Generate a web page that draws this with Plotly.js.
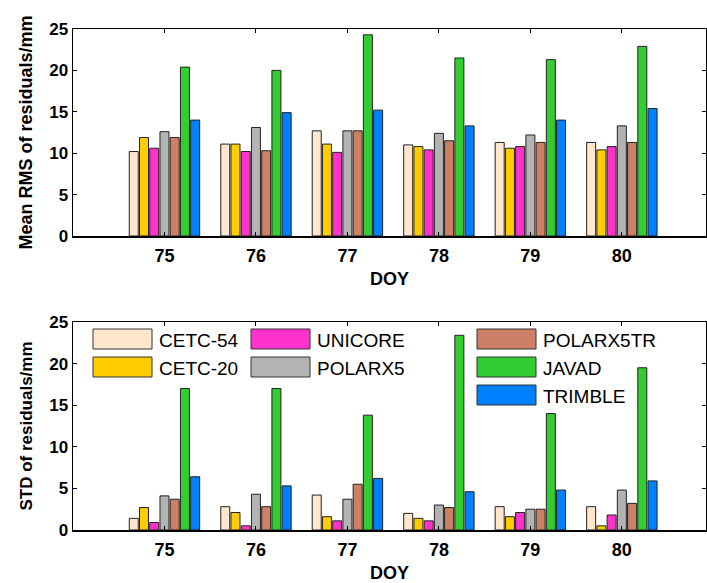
<!DOCTYPE html>
<html>
<head>
<meta charset="utf-8">
<script src="https://cdn.plot.ly/plotly-3.0.1.min.js"></script>
<style>html,body{margin:0;padding:0;background:#fff;}#chart{width:707px;height:583px;}</style>
</head>
<body>
<div id="chart"></div>
<script>
var doy = [75, 76, 77, 78, 79, 80];
var receivers = ["CETC-54", "CETC-20", "UNICORE", "POLARX5", "POLARX5TR", "JAVAD", "TRIMBLE"];
var colors = ["#FFE6CC", "#FFCC00", "#FF33CC", "#B3B3B3", "#CC8066", "#33CC33", "#0080FF"];

// Mean RMS of residuals (mm), per receiver, DOY 75..80
var rms_CETC54    = [10.2, 11.1, 12.7, 11.0, 11.3, 11.3];
var rms_CETC20    = [11.9, 11.1, 11.1, 10.8, 10.6, 10.4];
var rms_UNICORE   = [10.6, 10.2, 10.1, 10.4, 10.8, 10.8];
var rms_POLARX5   = [12.6, 13.1, 12.7, 12.4, 12.2, 13.3];
var rms_POLARX5TR = [11.9, 10.3, 12.7, 11.5, 11.3, 11.3];
var rms_JAVAD     = [20.4, 20.0, 24.3, 21.5, 21.3, 22.9];
var rms_TRIMBLE   = [14.0, 14.9, 15.2, 13.3, 14.0, 15.4];

// STD of residuals (mm)
var std_CETC54    = [1.4, 2.8, 4.2, 2.0, 2.8, 2.8];
var std_CETC20    = [2.7, 2.1, 1.6, 1.4, 1.6, 0.5];
var std_UNICORE   = [0.9, 0.5, 1.1, 1.1, 2.1, 1.8];
var std_POLARX5   = [4.1, 4.3, 3.7, 3.0, 2.5, 4.8];
var std_POLARX5TR = [3.7, 2.8, 5.5, 2.7, 2.5, 3.2];
var std_JAVAD     = [17.0, 17.0, 13.8, 23.4, 14.0, 19.5];
var std_TRIMBLE   = [6.4, 5.3, 6.2, 4.6, 4.8, 5.9];

var yTicks = [0, 5, 10, 15, 20, 25];

var rmsSeries = [rms_CETC54, rms_CETC20, rms_UNICORE, rms_POLARX5, rms_POLARX5TR, rms_JAVAD, rms_TRIMBLE];
var stdSeries = [std_CETC54, std_CETC20, std_UNICORE, std_POLARX5, std_POLARX5TR, std_JAVAD, std_TRIMBLE];

var FONT = "Liberation Sans, Arial, sans-serif";
var traces = [];
receivers.forEach(function (name, i) {
  traces.push({type: "bar", name: name, x: doy, y: rmsSeries[i], xaxis: "x", yaxis: "y",
    marker: {color: colors[i], line: {color: "#222", width: 1}}, showlegend: false, hoverinfo: "skip"});
});
receivers.forEach(function (name, i) {
  traces.push({type: "bar", name: name, x: doy, y: stdSeries[i], xaxis: "x2", yaxis: "y2",
    marker: {color: colors[i], line: {color: "#222", width: 1}}, showlegend: false, hoverinfo: "skip"});
});

var L = 73, R = 1, T = 29, B = 53, W = 707, H = 583;
var pw = W - L - R, ph = H - T - B;
function px(x) { return (x - L) / pw; }
function py(y) { return (H - B - y) / ph; }

function xax(anchor) {
  return {anchor: anchor, range: [74.0, 80.92], tickvals: doy, ticktext: doy.map(String),
    ticks: "inside", ticklen: 4, tickcolor: "#000", mirror: "ticks", showline: true, linecolor: "#000", linewidth: 1.5,
    showgrid: false, zeroline: false, fixedrange: true, ticklabelstandoff: 3,
    tickfont: {family: FONT, size: 18, color: "#000", weight: "bold"},
    title: {text: "<b>DOY</b>", font: {family: FONT, size: 18, color: "#000"}, standoff: 7}};
}
function yax(domain, anchor, title, tsize) {
  return {domain: domain, anchor: anchor, range: [0, 25], tickvals: yTicks,
    ticks: "inside", ticklen: 4, tickcolor: "#000", mirror: "ticks", showline: true, linecolor: "#000", linewidth: 1.5,
    showgrid: false, zeroline: false, fixedrange: true,
    tickfont: {family: FONT, size: 17, color: "#000", weight: "bold"},
    title: {text: "<b>" + title + "</b>", font: {family: FONT, size: tsize, color: "#000"}, standoff: 12}};
}

// Legend drawn as boxes + labels (3 columns: 2, 2, 3 entries)
var legendCols = [[0, 1], [2, 3], [4, 5, 6]];
var colX = [93, 251, 477];
var rowY = [329, 357, 385];
var shapes = [], annotations = [];
legendCols.forEach(function (col, c) {
  col.forEach(function (idx, r) {
    var x0 = colX[c], y0 = rowY[r];
    shapes.push({type: "rect", xref: "paper", yref: "paper",
      x0: px(x0), x1: px(x0 + 59), y0: py(y0 + 20), y1: py(y0),
      fillcolor: colors[idx], line: {color: "#333", width: 1}});
    annotations.push({xref: "paper", yref: "paper", x: px(x0 + 64), y: py(y0 + 11),
      xanchor: "left", yanchor: "middle", showarrow: false, text: receivers[idx],
      font: {family: FONT, size: 19, color: "#000"}});
  });
});

var layout = {
  width: W, height: H,
  margin: {l: L, r: R, t: T, b: B},
  paper_bgcolor: "#fff", plot_bgcolor: "#fff",
  barmode: "group", bargap: 0.217, bargroupgap: 0.12,
  showlegend: false,
  xaxis: xax("y"),
  yaxis: yax([py(236), 1], "x", "Mean RMS of residuals/mm", 18),
  xaxis2: xax("y2"),
  yaxis2: yax([0, py(322)], "x2", "STD of residuals/mm", 17),
  shapes: shapes,
  annotations: annotations
};

Plotly.newPlot("chart", traces, layout, {displayModeBar: false, staticPlot: true});
</script>
</body>
</html>
